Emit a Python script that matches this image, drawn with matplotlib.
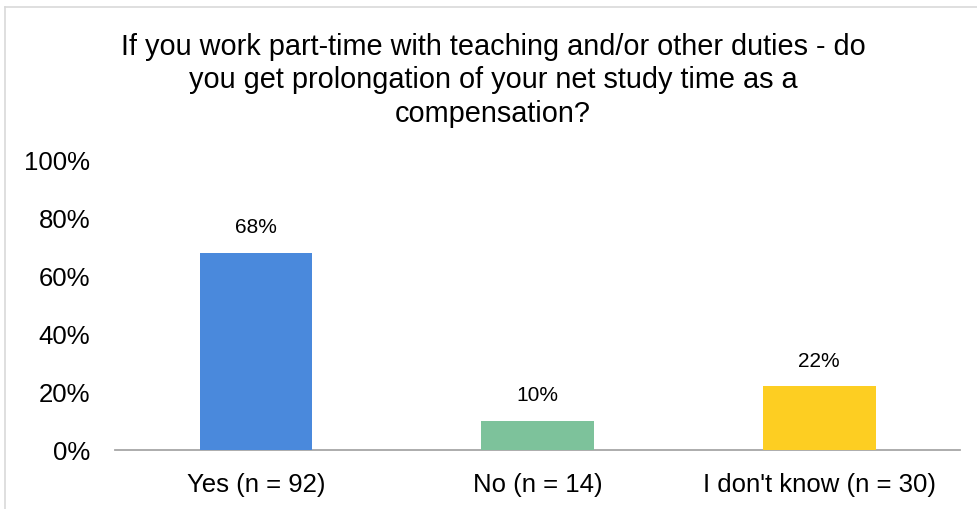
import matplotlib.pyplot as plt
from matplotlib.lines import Line2D
from matplotlib.ticker import PercentFormatter

plt.rcParams['font.family'] = ['Liberation Sans', 'DejaVu Sans']

# data
categories = ['Yes (n = 92)', 'No (n = 14)', "I don't know (n = 30)"]
shares = [68, 10, 22]
colors = ['#4A89DC', '#7DC29B', '#FDCE22']
yticks = [0, 20, 40, 60, 80, 100]

title = ('If you work part-time with teaching and/or other duties - do\n'
         'you get prolongation of your net study time as a\n'
         'compensation?')

fig = plt.figure(figsize=(9.77, 5.10), dpi=100)
W, H = 977, 510
ax = fig.add_axes([115 / W, (H - 451) / H, 845 / W, 290 / H])

bars = ax.bar(categories, shares, width=0.4, color=colors, zorder=3)
ax.set_xlim(-0.5, 2.5)
ax.set_ylim(0, 100)
ax.set_yticks(yticks)
ax.yaxis.set_major_formatter(PercentFormatter(decimals=0))

for s in ['top', 'right', 'left']:
    ax.spines[s].set_visible(False)
ax.spines['bottom'].set_color('#A6A6A6')
ax.spines['bottom'].set_linewidth(1.3)
ax.tick_params(axis='y', length=0, pad=18, labelsize=18.5)
ax.tick_params(axis='x', length=0, pad=16, labelsize=18.5)

for bar, v in zip(bars, shares):
    ax.annotate(f'{v}%', (bar.get_x() + bar.get_width() / 2, v),
                xytext=(0, 12), textcoords='offset points',
                ha='center', va='bottom', fontsize=15)

fig.text(493 / W, 1 - 33 / H, title, ha='center', va='top',
         fontsize=20.8, linespacing=1.24)

# chart frame (light gray), only top and left edge visible
fig.add_artist(Line2D([5 / W, 1], [1 - 8 / H, 1 - 8 / H],
                      transform=fig.transFigure, color='#D9D9D9', lw=1.2))
fig.add_artist(Line2D([5 / W, 5 / W], [0, 1 - 8 / H],
                      transform=fig.transFigure, color='#D9D9D9', lw=1.2))

fig.savefig('out.png', dpi=100)
